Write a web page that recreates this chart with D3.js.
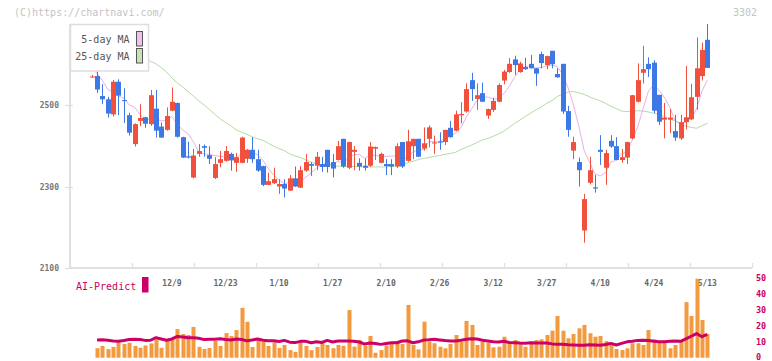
<!DOCTYPE html>
<html><head><meta charset="utf-8">
<script src="https://cdn.jsdelivr.net/npm/d3@7/dist/d3.min.js"></script>
<style>html,body{margin:0;padding:0;background:#fff;}svg{display:block;}</style>
</head><body><svg id="c" width="772" height="361"></svg>
<script>
const dates = ["11/18","11/19","11/20","11/21","11/22","11/25","11/26","11/27","11/28","11/29",
"12/2","12/3","12/4","12/5","12/6","12/9","12/10","12/11","12/12","12/13","12/16","12/17","12/18","12/19","12/20","12/23","12/24","12/25","12/26","12/27","12/30",
"1/6","1/7","1/8","1/9","1/10","1/14","1/15","1/16","1/17","1/20","1/21","1/22","1/23","1/24","1/27","1/28","1/29","1/30","1/31",
"2/3","2/4","2/5","2/6","2/7","2/10","2/12","2/13","2/14","2/17","2/18","2/19","2/20","2/21","2/25","2/26","2/27","2/28",
"3/3","3/4","3/5","3/6","3/7","3/10","3/11","3/12","3/13","3/14","3/17","3/18","3/19","3/21","3/24","3/25","3/26","3/27","3/28","3/31",
"4/1","4/2","4/3","4/4","4/7","4/8","4/9","4/10","4/11","4/14","4/15","4/16","4/17","4/18","4/21","4/22","4/23","4/24","4/25","4/28","4/30",
"5/1","5/2","5/7","5/8","5/9","5/12","5/13"];
const openP = [2568,2571,2522,2514,2477,2557,2512,2475,2404,2461,2470,2453,2491,2447,2439,2486,2505,2421,2374,2322,
2380,2399,2377,2321,2358,2363,2380,2358,2358,2368,2390,2367,2350,2304,2308,2300,2306,2290,2320,2297,
2339,2355,2351,2355,2390,2360,2365,2417,2346,2385,2358,2351,2351,2393,2358,2355,2355,2349,2409,2363,
2399,2417,2393,2417,2406,2411,2409,2444,2437,2475,2484,2561,2515,2529,2474,2488,2508,2560,2581,2612,
2581,2593,2601,2590,2625,2598,2633,2576,2601,2485,2388,2360,2192,2309,2298,2390,2346,2412,2399,2365,
2371,2418,2508,2579,2601,2604,2525,2464,2464,2436,2418,2458,2465,2520,2571,2660];
const highP = [2574,2590,2551,2520,2561,2563,2541,2481,2455,2502,2471,2537,2537,2457,2494,2543,2506,2422,2410,2392,
2404,2403,2399,2372,2387,2399,2383,2382,2422,2392,2421,2390,2351,2334,2346,2318,2318,2328,2349,2350,
2380,2360,2385,2373,2390,2380,2412,2417,2410,2399,2369,2369,2409,2398,2383,2367,2367,2406,2409,2439,
2417,2417,2445,2450,2425,2433,2439,2461,2486,2507,2553,2579,2553,2555,2491,2518,2553,2586,2615,2621,
2606,2616,2623,2591,2631,2621,2633,2590,2601,2498,2422,2371,2282,2373,2328,2426,2390,2426,2421,2392,
2410,2525,2602,2645,2617,2610,2525,2505,2490,2476,2476,2596,2552,2666,2653,2699];
const lowP = [2567,2530,2502,2469,2472,2475,2456,2425,2398,2448,2444,2449,2420,2419,2437,2485,2420,2370,2369,2320,
2373,2373,2355,2318,2347,2361,2339,2336,2357,2358,2358,2336,2301,2303,2306,2282,2273,2289,2299,2297,
2336,2326,2340,2336,2334,2322,2364,2346,2343,2340,2339,2339,2348,2365,2357,2328,2328,2345,2345,2361,
2367,2372,2388,2396,2380,2390,2402,2420,2436,2455,2481,2510,2488,2508,2466,2483,2507,2551,2579,2574,
2579,2586,2590,2547,2590,2588,2590,2567,2478,2422,2367,2300,2162,2305,2285,2353,2304,2395,2364,2358,
2355,2416,2506,2553,2569,2480,2451,2418,2431,2412,2414,2440,2463,2488,2560,2591];
const closeP = [2570,2538,2514,2479,2557,2523,2510,2432,2453,2468,2454,2524,2437,2420,2473,2508,2422,2371,2371,2376,
2387,2395,2368,2355,2367,2387,2364,2372,2420,2390,2367,2339,2304,2313,2318,2306,2295,2320,2300,2340,
2360,2351,2373,2348,2348,2344,2399,2349,2409,2390,2349,2346,2398,2397,2380,2350,2349,2399,2349,2411,
2417,2373,2406,2445,2408,2408,2439,2421,2477,2478,2539,2539,2524,2508,2490,2510,2549,2582,2601,2598,
2602,2588,2590,2577,2603,2620,2600,2568,2484,2439,2409,2340,2269,2340,2295,2385,2382,2398,2365,2372,
2409,2524,2561,2588,2588,2486,2459,2469,2469,2420,2458,2470,2519,2590,2635,2591];
const ma5 = [2592,2577,2560,2538,2532,2522,2517,2500,2495,2477,2463,2466,2467,2461,2462,2472,2452,2439,2429,2410,
2385,2380,2379,2376,2374,2374,2368,2369,2382,2387,2383,2378,2364,2343,2328,2316,2307,2310,2308,2312,
2323,2334,2345,2354,2356,2353,2362,2358,2370,2378,2379,2369,2378,2376,2374,2374,2375,2375,2365,2372,
2385,2390,2391,2410,2410,2408,2421,2424,2431,2445,2471,2491,2511,2518,2520,2514,2516,2528,2546,2568,
2586,2594,2596,2591,2592,2596,2598,2594,2575,2542,2500,2448,2388,2359,2331,2326,2334,2360,2365,2380,
2385,2414,2446,2491,2534,2549,2536,2518,2494,2461,2455,2457,2467,2491,2534,2561];
const ma25 = [2655,2651,2647,2644,2640,2636,2633,2629,2624,2619,2614,2607,2601,2592,2581,2566,2554,2544,2533,2522,
2510,2500,2489,2477,2466,2457,2449,2439,2433,2428,2422,2417,2413,2406,2399,2393,2388,2380,2375,2371,
2365,2360,2355,2352,2351,2350,2350,2350,2349,2349,2349,2348,2348,2348,2348,2348,2349,2351,2354,2358,
2362,2366,2369,2371,2374,2376,2379,2381,2384,2391,2396,2402,2408,2414,2418,2423,2429,2436,2445,2455,
2463,2472,2480,2488,2495,2504,2511,2521,2527,2532,2533,2530,2526,2520,2515,2510,2504,2497,2491,2485,
2484,2485,2486,2485,2483,2480,2477,2471,2466,2461,2454,2448,2445,2443,2449,2455];
const volume = [null,6.0,7.4,5.4,6.8,9.8,8.6,9.4,7.4,6.3,7.7,9.0,11.2,6.2,11.1,11.8,18.0,14.9,14.3,19.4,
6.8,5.5,6.1,10.5,7.4,15.5,13.7,17.4,31.4,22.6,6.7,10.9,9.9,7.4,9.6,6.1,8.0,4.8,3.7,9.4,
7.4,4.8,6.8,9.4,8.0,6.0,8.0,7.5,30.0,7.0,11.1,7.4,13.7,3.1,4.8,7.7,9.9,10.5,8.6,33.2,
8.0,5.3,22.7,10.1,9.1,6.9,5.9,8.6,14.3,10.1,23.1,20.6,8.0,10.1,9.4,6.5,6.9,13.2,9.1,11.1,
9.1,6.9,10.1,11.1,11.6,14.3,17.0,26.3,17.0,12.2,14.9,18.5,20.6,15.4,13.2,13.7,10.5,8.0,5.5,4.8,
5.9,9.1,9.1,8.0,17.4,11.6,9.4,10.7,5.9,8.0,10.1,35.0,26.3,49.7,23.7,14.9];
const aiPredict = [null,11.1,11.3,11.0,10.5,10.4,10.8,11.4,11.6,11.5,10.9,11.0,12.6,11.8,11.0,11.8,13.4,13.1,12.6,12.6,
12.2,11.4,11.6,11.6,11.9,11.4,11.1,11.8,11.5,10.6,11.2,11.8,11.0,10.7,10.7,10.2,10.9,9.8,9.5,10.3,
10.3,9.4,10.0,9.6,10.9,9.9,10.5,10.5,10.5,10.3,9.9,8.6,9.3,8.9,8.4,8.9,9.4,9.4,10.5,10.6,
9.4,10.0,11.1,11.3,11.6,11.2,10.8,10.5,10.5,11.0,11.6,12.0,11.8,11.0,10.5,10.0,9.9,10.4,9.6,9.4,
9.2,9.1,9.4,9.2,9.3,9.2,8.7,8.5,8.4,8.1,8.0,7.9,7.9,8.1,8.0,7.9,8.3,9.0,8.0,9.0,
10.0,10.4,10.9,11.0,10.8,10.4,10.1,10.0,10.3,10.5,10.3,11.8,13.5,15.2,13.2,14.7];
const dateLabels = ["12/9","12/23","1/10","1/27","2/10","2/26","3/12","3/27","4/10","4/24","5/13"];
const priceTicks = [2500, 2300, 2100];
const volumeTicks = [0, 10, 20, 30, 40, 50];
const legendNames = ["5-day MA", "25-day MA"];

const svg = d3.select("#c");
const MONO = "'DejaVu Sans Mono', 'Liberation Mono', monospace";
const UP = "#f0503c", DOWN = "#3c78e6", MA5C = "#e8b0e8", MA25C = "#b4dca4", VOLC = "#f39a3f", AIC = "#cc0066";

const x = d3.scalePoint().domain(dates).range([91.7, 707.3]);
const y = d3.scaleLinear().domain([2100, 2500]).range([268, 105]);
const yv = d3.scaleLinear().domain([0, 50]).range([357.7, 278.3]);
const gx = d3.scaleLinear().domain([0, 11]).range([70, 752]);

const rows = dates.map((d, i) => ({d, o: openP[i], h: highP[i], l: lowP[i], c: closeP[i], m5: ma5[i], m25: ma25[i], v: volume[i], a: aiPredict[i]}));
const px = d => Math.round(x(d));

// watermark & code
svg.append("text").attr("x", 14).attr("y", 16).attr("font-family", MONO).attr("font-size", 10).attr("fill", "#c4c4c4").text("(C)https://chartnavi.com/");
svg.append("text").attr("x", 757).attr("y", 16).attr("text-anchor", "end").attr("font-family", MONO).attr("font-size", 10).attr("fill", "#c4c4c4").text("3302");

// axes
svg.append("line").attr("x1", 70).attr("x2", 70).attr("y1", 24).attr("y2", 269).attr("stroke", "#e0e0e0").attr("stroke-width", 2);
svg.append("line").attr("x1", 70).attr("x2", 752).attr("y1", 268).attr("y2", 268).attr("stroke", "#e0e0e0").attr("stroke-width", 2);
svg.selectAll(".gt").data(d3.range(12)).join("line").attr("x1", k => Math.round(gx(k)) + 0.5).attr("x2", k => Math.round(gx(k)) + 0.5)
  .attr("y1", 263).attr("y2", 268).attr("stroke", "#e0e0e0").attr("stroke-width", 1.3);
svg.selectAll(".yt").data(priceTicks).join("line").attr("x1", 65).attr("x2", 73).attr("y1", v => Math.round(y(v)) + 0.5).attr("y2", v => Math.round(y(v)) + 0.5)
  .attr("stroke", "#e0e0e0").attr("stroke-width", 1.3);
svg.selectAll(".yl").data(priceTicks).join("text").attr("x", 59).attr("y", v => y(v) + 3).attr("text-anchor", "end")
  .attr("font-family", MONO).attr("font-size", 8).attr("font-weight", "bold").attr("fill", "#777").text(v => v);

// moving averages
const line5 = d3.line().x(r => x(r.d)).y(r => y(r.m5));
const line25 = d3.line().x(r => x(r.d)).y(r => y(r.m25));
svg.append("path").datum(rows).attr("d", line25).attr("fill", "none").attr("stroke", MA25C).attr("stroke-width", 1);
svg.append("path").datum(rows).attr("d", line5).attr("fill", "none").attr("stroke", MA5C).attr("stroke-width", 1);

// candles
const cg = svg.append("g");
cg.selectAll("line").data(rows).join("line")
  .attr("x1", r => px(r.d) + 0.5).attr("x2", r => px(r.d) + 0.5)
  .attr("y1", r => y(r.h)).attr("y2", r => y(r.l))
  .attr("stroke", r => r.c >= r.o ? UP : DOWN).attr("stroke-width", 1);
cg.selectAll("rect").data(rows).join("rect")
  .attr("x", r => px(r.d) - 2).attr("width", 5)
  .attr("y", r => Math.min(y(r.o), y(r.c)))
  .attr("height", r => Math.max(1, Math.abs(y(r.o) - y(r.c))))
  .attr("fill", r => r.c >= r.o ? UP : DOWN);

// legend
svg.append("rect").attr("x", 70.5).attr("y", 24.5).attr("width", 78).attr("height", 46.5).attr("fill", "#fff").attr("stroke", "#dedede").attr("stroke-width", 1.5);
const lg = svg.selectAll(".lg").data(legendNames).join("g").attr("transform", (d, i) => `translate(0,${i * 17})`);
lg.append("text").attr("x", 129.5).attr("y", 42.7).attr("text-anchor", "end").attr("font-family", MONO).attr("font-size", 10).attr("fill", "#555").text(d => d);
lg.append("rect").attr("x", 136.5).attr("y", 31.5).attr("width", 6).attr("height", 14.5)
  .attr("fill", (d, i) => i === 0 ? "#f0c0f0" : "#c4e4b4").attr("stroke", "#555").attr("stroke-width", 1);

// date labels
svg.selectAll(".dl").data(dateLabels).join("text").attr("x", d => x(d)).attr("y", 285.5).attr("text-anchor", "middle")
  .attr("font-family", MONO).attr("font-size", 8).attr("font-weight", "bold").attr("fill", "#666").text(d => d);

// AI-Predict label
svg.append("text").attr("x", 76).attr("y", 290).attr("font-family", MONO).attr("font-size", 10).attr("fill", AIC).text("AI-Predict");
svg.append("rect").attr("x", 142).attr("y", 277).attr("width", 6.5).attr("height", 15.5).attr("fill", AIC);

// volume
const vrows = rows.filter(r => r.v != null);
svg.selectAll(".vb").data(vrows).join("rect").attr("x", r => px(r.d) - 1.5).attr("width", 4)
  .attr("y", r => yv(r.v)).attr("height", r => yv(0) - yv(r.v)).attr("fill", VOLC);
const aline = d3.line().defined(r => r.a != null).x(r => x(r.d)).y(r => yv(r.a));
svg.append("path").datum(rows).attr("d", aline).attr("fill", "none").attr("stroke", AIC).attr("stroke-width", 3).attr("stroke-linejoin", "round");
svg.selectAll(".vl").data(volumeTicks).join("text").attr("x", 756).attr("y", v => Math.min(yv(v) + 3, 359.5))
  .attr("font-family", MONO).attr("font-size", 8.5).attr("font-weight", "bold").attr("fill", AIC).text(v => v);
</script></body></html>
